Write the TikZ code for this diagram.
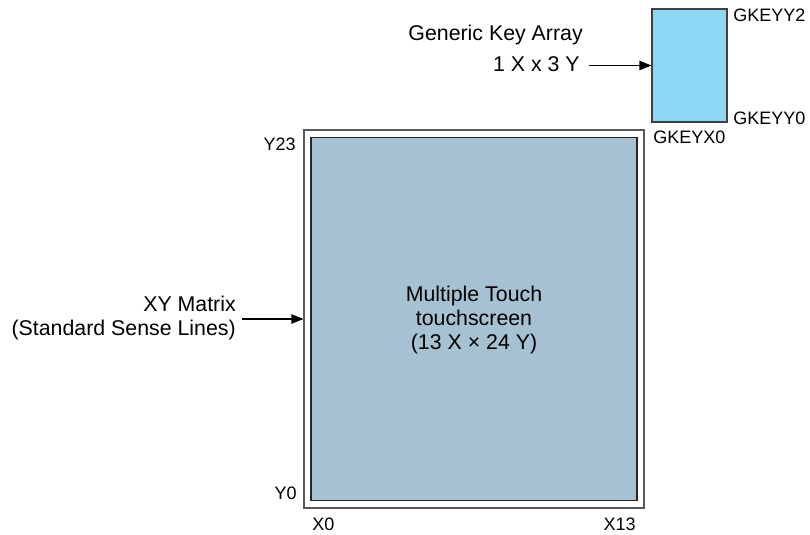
\documentclass[tikz,border=0pt]{standalone}
\usepackage{fontspec}
\setmainfont{Liberation Sans}
\usetikzlibrary{arrows.meta}
\definecolor{keyblue}{HTML}{8DD7F5}
\definecolor{screenblue}{HTML}{A5C1D2}
\begin{document}
\begin{tikzpicture}[x=0.75pt,y=-0.75pt,
  big/.style={font=\fontsize{16}{18}\selectfont, inner sep=0pt},
  small/.style={font=\fontsize{13.5}{16}\selectfont, inner sep=0pt},
  arr/.style={draw=black, line width=0.9pt, -{Triangle[length=9pt,width=7pt]}},
  boxnode/.style={rectangle, inner sep=0pt}]
\useasboundingbox (0,0) rectangle (810,535);
% main outer and inner rectangles
\node[boxnode, draw=gray!70!black, line width=0.8pt, fill=white,
      minimum width=255pt, minimum height=283.5pt] (outer) at (474,319) {};
\node[boxnode, draw=black!85, line width=1.1pt, fill=screenblue,
      minimum width=244.5pt, minimum height=272.25pt] (inner) at (474,319) {};
\node[big, align=center] (title) at (474,320) {Multiple Touch\\touchscreen\\(13 X × 24 Y)};
% key array
\node[boxnode, draw=black!75, line width=0.8pt, fill=keyblue,
      minimum width=56.25pt, minimum height=84.75pt] (key) at (689.5,65.5) {};
% corner labels
\node[small, anchor=east] (y23) at (296,144) {Y23};
\node[small, anchor=east] (y0) at (297,493) {Y0};
\node[small, anchor=west] (x0) at (312,524) {X0};
\node[small, anchor=east] (x13) at (636,524) {X13};
\node[small, anchor=west] (gy2) at (733,15) {GKEYY2};
\node[small, anchor=west] (gy0) at (733,118) {GKEYY0};
\node[small, anchor=west] (gx0) at (653,137) {GKEYX0};
% side labels
\node[big, anchor=east] (gka) at (583,35) {Generic Key Array};
\node[big, anchor=east] (gkb) at (580,64) {1 X x 3 Y};
\node[big, anchor=east, align=right] (xy) at (236,318) {XY Matrix\\(Standard Sense Lines)};
% arrows
\draw[arr] (gkb.east |- key.west) ++(9,0) coordinate (ka) -- (key.west);
\draw[arr] (xy.east |- outer.west) ++(6,0) coordinate (xa) -- (outer.west);
\end{tikzpicture}
\end{document}
